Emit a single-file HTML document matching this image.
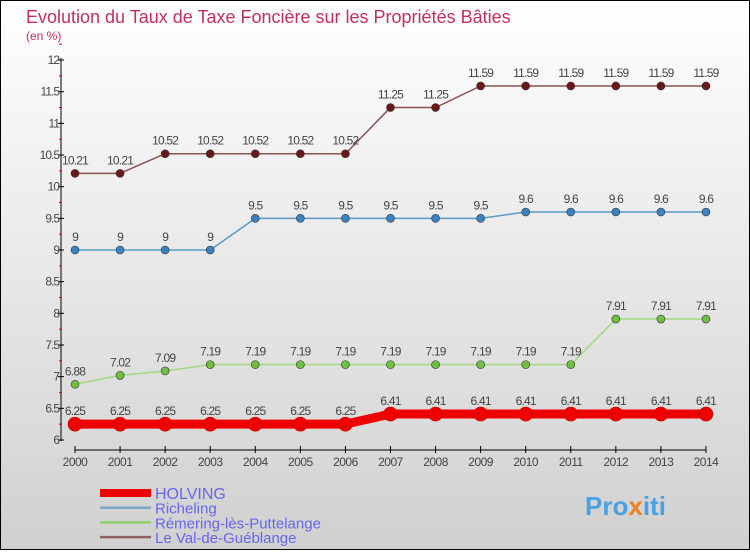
<!DOCTYPE html>
<html><head><meta charset="utf-8"><style>
body{margin:0;width:750px;height:550px;overflow:hidden;font-family:"Liberation Sans",sans-serif}
svg text{font-family:"Liberation Sans",sans-serif}
</style></head><body>
<svg id="c" width="750" height="550" xmlns="http://www.w3.org/2000/svg">
<defs><linearGradient id="bg" x1="0" y1="0" x2="0" y2="1"><stop offset="0" stop-color="#ffffff"/><stop offset="1" stop-color="#d0d0d0"/></linearGradient></defs>
<rect x="0.5" y="0.5" width="749" height="549" fill="url(#bg)" stroke="#000"/>
<text x="26" y="23" font-size="18" fill="#c0305a">Evolution du Taux de Taxe Foncière sur les Propriétés Bâties</text>
<text x="26" y="40" font-size="12" fill="#c0305a">(en %)</text>
<g id="axes"></g><g id="series"></g><g id="legend"></g>
<text x="585" y="515" font-size="26" font-weight="bold" fill="#4aa0e0">Pro<tspan fill="#f08020">x</tspan>iti</text>
</svg>
<script>
const years=[2000,2001,2002,2003,2004,2005,2006,2007,2008,2009,2010,2011,2012,2013,2014];
const holving=[6.25,6.25,6.25,6.25,6.25,6.25,6.25,6.41,6.41,6.41,6.41,6.41,6.41,6.41,6.41];
const richeling=[9,9,9,9,9.5,9.5,9.5,9.5,9.5,9.5,9.6,9.6,9.6,9.6,9.6];
const remering=[6.88,7.02,7.09,7.19,7.19,7.19,7.19,7.19,7.19,7.19,7.19,7.19,7.91,7.91,7.91];
const valdegueb=[10.21,10.21,10.52,10.52,10.52,10.52,10.52,11.25,11.25,11.59,11.59,11.59,11.59,11.59,11.59];
const yTicks=[6,6.5,7,7.5,8,8.5,9,9.5,10,10.5,11,11.5,12];
const seriesNames=["HOLVING","Richeling","Rémering-lès-Puttelange","Le Val-de-Guéblange"];
const NS="http://www.w3.org/2000/svg";
const X=i=>75+i*45.07, Y=v=>440-(v-6)*63.33;
function el(t,a,p){const e=document.createElementNS(NS,t);for(const k in a)e.setAttribute(k,a[k]);p.appendChild(e);return e;}
const ax=document.getElementById('axes');
let l=el('line',{x1:61,y1:58,x2:61,y2:441,stroke:'#000'},ax);


l=el('line',{x1:75,y1:450,x2:706,y2:450,stroke:'#000'},ax);


yTicks.forEach(v=>{
 el('line',{x1:58,y1:Y(v),x2:64,y2:Y(v),stroke:'#000'},ax);
 el('line',{x1:59,y1:Y(v+0.25),x2:62,y2:Y(v+0.25),stroke:'#e00'},ax);
 const t=el('text',{x:59,y:Y(v)+4,'font-size':12,fill:'#444','text-anchor':'end','letter-spacing':'-1'},ax);
 t.textContent=String(v);
 
 
});
years.forEach((y,i)=>{
 el('line',{x1:X(i),y1:446,x2:X(i),y2:453,stroke:'#000'},ax);
 const t=el('text',{x:X(i),y:466,'font-size':12,fill:'#444','text-anchor':'middle','letter-spacing':'-0.5'},ax);
 t.textContent=y;
 
 
});
const sg=document.getElementById('series');
const defs=[[valdegueb,'#8a5050','#6a1818',1.5,4,'val-de-gueblange'],[richeling,'#5a9ac8','#3a82c0',1.5,4,'richeling'],[remering,'#a0d880','#70c040',1.5,4,'remering'],[holving,'#ee0000','#ee0000',9,7,'holving']];
defs.forEach(([d,lc,pc,w,r,n])=>{
 const g=el('g',{},sg);
 
 
 const p=el('polyline',{points:d.map((v,i)=>X(i)+','+Y(v)).join(' '),fill:'none',stroke:lc,'stroke-width':w},g);
 
 
 d.forEach((v,i)=>{
  const c=el('circle',{cx:X(i),cy:Y(v),r:r,fill:pc,stroke:w>5?'#c00':'#333','stroke-width':0.6},g);
  
  
  const t=el('text',{x:X(i),y:Y(v)-9,'font-size':12,fill:'#444','text-anchor':'middle','letter-spacing':'-0.8'},g);
  t.textContent=String(v);
  
  
 });
});
const lg=document.getElementById('legend');
const lcols=['#ee0000','#7aaacc','#90d070','#906060'],lw=[8,2.5,2.5,2.5];
seriesNames.forEach((s,i)=>{
 const y=493+i*14.7;
 const ln=el('line',{x1:100,y1:y,x2:151,y2:y,stroke:lcols[i],'stroke-width':lw[i]},lg);
 
 
 const t=el('text',{x:155,y:y+6,'font-size':i==0?16:15,fill:'#6666ee'},lg);
 t.textContent=s;
 
 
});
</script>
</body></html>
